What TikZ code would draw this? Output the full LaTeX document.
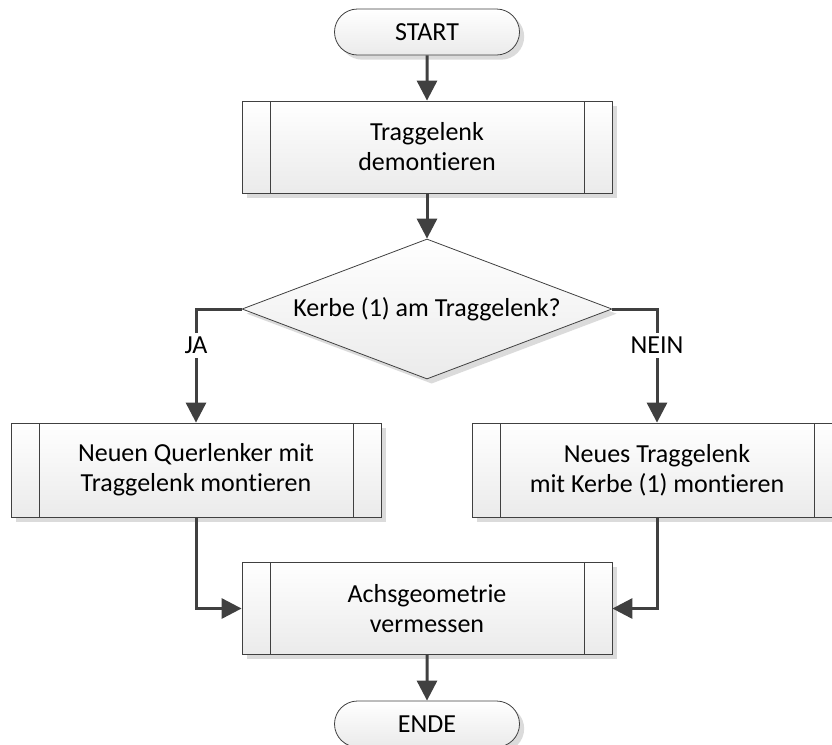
\documentclass[tikz,border=0pt]{standalone}
\usepackage{fontspec}
\setmainfont{Carlito}[Ligatures={NoCommon}]
\usetikzlibrary{arrows.meta,shapes.geometric,shapes.misc,shadows}

\definecolor{r64g64g64}{rgb}{0.250980,0.250980,0.250980}%

\tikzset{
  shadebox/.style={top color=white,bottom color=black!8,draw=black!75,line width=0.6pt,
    drop shadow={shadow xshift=3.5pt,shadow yshift=-3.5pt,fill=black!14,opacity=1}},
  terminal/.style={shadebox,rounded rectangle,minimum width=138.75pt,minimum height=34.5pt,inner sep=0pt},
  subproc/.style={shadebox,rectangle,minimum width=277.5pt,minimum height=69pt,inner sep=0pt,align=center,
    path picture={
      \draw[black!75,line width=0.6pt]
        ([xshift=21pt]path picture bounding box.north west) -- ([xshift=21pt]path picture bounding box.south west)
        ([xshift=-21pt]path picture bounding box.north east) -- ([xshift=-21pt]path picture bounding box.south east);}},
  decision/.style={shadebox,diamond,aspect=2.64,minimum width=277.5pt,minimum height=105pt,inner sep=0pt},
  flow/.style={draw=r64g64g64,line width=2.25pt,-{Triangle[length=15pt,width=15pt]}},
  answer/.style={fill=white,inner sep=3pt}
}

\begin{document}
\begin{tikzpicture}[x=0.75pt,y=-0.75pt,font=\fontsize{19.5pt}{22.5pt}\selectfont]
                        \clip (0,0) rectangle (832,744);

                        % Start and end
                        \node (start) [terminal] at (427,32) {START};
                        \node (ende) [terminal] at (427,724) {ENDE};

                        % Steps
                        \node (demont) [subproc] at (427,147) {Traggelenk\\demontieren};
                        \node (kerbe) [decision] at (427,309) {Kerbe (1) am Traggelenk?};
                        \node (querl) [subproc,minimum height=70.5pt] at (196,470) {Neuen Querlenker mit\\Traggelenk montieren};
                        \node (neutg) [subproc,minimum height=70.5pt] at (657,470) {Neues Traggelenk\\mit Kerbe (1) montieren};
                        \node (achs) [subproc] at (427,608.5) {Achsgeometrie\\vermessen};

                        % Connections
                        \draw [flow] (start) -- (demont);
                        \draw [flow] (demont) -- (kerbe);
                        \draw [flow] (kerbe.west) -| node [answer,pos=0.66] {JA} (querl);
                        \draw [flow] (kerbe.east) -| node [answer,pos=0.66] {NEIN} (neutg);
                        \draw [flow] (querl) |- (achs);
                        \draw [flow] (neutg) |- (achs);
                        \draw [flow] (achs) -- (ende);
                    \end{tikzpicture}
\end{document}
